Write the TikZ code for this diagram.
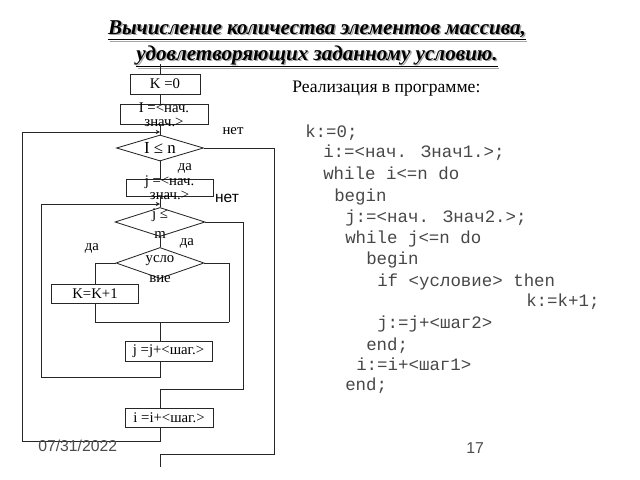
\documentclass[tikz,border=0pt]{standalone}
\usepackage{fontspec}
\setmainfont{Liberation Serif}
\newfontfamily\monof{Liberation Mono}
\newfontfamily\sansf{Liberation Sans}
\usetikzlibrary{shapes.geometric,arrows.meta}
\newcommand\twol[2]{\smash{\raisebox{-4.5pt}{\begin{tabular}[c]{@{}c@{}}#1\\#2\end{tabular}}}}
\newcommand\twolow[2]{\smash{\raisebox{-6.5pt}{\begin{tabular}[c]{@{}c@{}}#1\\#2\end{tabular}}}}
\begin{document}
\begin{tikzpicture}[x=0.025cm,y=-0.025cm,
  ln/.style={line width=0.6pt, draw=black!85},
  box/.style={ln, rectangle, inner sep=0pt, font=\fontsize{10.5}{10}\selectfont},
  dia/.style={ln, diamond, aspect=4, inner sep=0pt, font=\fontsize{10.5}{14}\selectfont},
  lbl/.style={font=\fontsize{10.5}{12}\selectfont, inner sep=0pt},
  code/.style={anchor=base west, inner sep=0pt, font=\monof\fontsize{12.4}{14}\selectfont, text=black!72},
  foot/.style={anchor=west, inner sep=0pt, font=\sansf\fontsize{11.2}{12}\selectfont, text=black!70},
  title/.style={align=center, inner sep=0pt, font=\bfseries\itshape\fontsize{15}{18.5}\selectfont},
  arr/.style={ln, -{Stealth[length=3pt,width=3pt]}}
]
\useasboundingbox (0,0) rectangle (640,480);

% title with shadow
\node[title, text=black!35] (tsh) at (318.5,45.5) {\underline{Вычисление количества элементов массива,}\\\underline{удовлетворяющих заданному условию.}};
\node[title] (title) at (317,44) {\underline{Вычисление количества элементов массива,}\\\underline{удовлетворяющих заданному условию.}};

% flowchart nodes
\node[box, minimum width=1.75cm, minimum height=0.5cm] (K0) at (165,84) {K =0};
\node[box, minimum width=2.2cm, minimum height=0.5cm] (I1) at (164,114) {\twol{I =<нач.}{знач.>}};
\node[dia, minimum width=2.175cm, minimum height=0.65cm, font=\fontsize{12}{14}\selectfont] (D1) at (160,148) {I ≤ n};
\node[box, minimum width=2.175cm, minimum height=0.425cm] (J1) at (169.5,187.5) {\twol{j =<нач.}{знач.>}};
\node[dia, minimum width=2.25cm, minimum height=0.725cm] (D2) at (160,222) {\twol{j ≤}{m}};
\node[dia, minimum width=2.2cm, minimum height=0.775cm] (D3) at (160,263) {\twolow{усло}{вие}};
\node[box, minimum width=2.175cm, minimum height=0.475cm] (K1) at (95,293.5) {K=K+1};
\node[box, minimum width=2.175cm, minimum height=0.5cm] (J2) at (168.5,351) {j =j+<шаг.>};
\node[box, minimum width=2.2cm, minimum height=0.475cm] (I2) at (169,417.5) {i =i+<шаг.>};

% coordinates
\coordinate (top) at (160,64);
\coordinate (oL) at (22,441);
\coordinate (oT) at (160,132);
\coordinate (iL) at (41,377);
\coordinate (iT) at (160,204);
\coordinate (oR) at (274,454);
\coordinate (endp) at (160,467);
\coordinate (iR) at (243,389);
\coordinate (mR) at (229,322);
\coordinate (mC) at (160,322);

% connectors
\draw[ln] (top) -- (K0.north -| top);
\draw[ln] (K0.south -| top) -- (I1.north -| top);
\draw[ln] (I1.south -| top) -- (D1.north);
\draw[arr] (I2.south -| top) |- (oL) |- (oT);
\draw[ln] (D1.south) -- (J1.north -| top);
\draw[ln] (D1.east) -| (oR) -| (endp);
\draw[ln] (J1.south -| top) -- (D2.north);
\draw[arr] (J2.south -| top) |- (iL) |- (iT);
\draw[ln] (D2.south) -- (D3.north);
\draw[ln] (D2.east) -| (iR) -| (I2.north -| top);
\draw[ln] (D3.west) -| (K1.north);
\draw[ln] (K1.south) |- (mR);
\draw[ln] (D3.east) -| (mR);
\draw[ln] (mC) -- (J2.north -| mC);

% labels
\node[lbl] (n1) at (233,131) {нет};
\node[lbl] (y1) at (185,168) {да};
\node[lbl, font=\sansf\fontsize{11}{12}\selectfont] (n2) at (227,198) {нет};
\node[lbl] (y2) at (187,243) {да};
\node[lbl] (y3) at (92,248) {да};

% program text
\node[anchor=base west, inner sep=0pt, font=\fontsize{12.5}{14}\selectfont] (impl) at (292,93) {Реализация в программе:};
\node[code] (c1) at (305,137) {k:=0;};
\node[code] (c2) at (323,157) {i:=<нач. Знач1.>;};
\node[code] (c3) at (323,179) {while i<=n do};
\node[code] (c4) at (334,201) {begin};
\node[code] (c5) at (345,222) {j:=<нач. Знач2.>;};
\node[code] (c6) at (345,243) {while j<=n do};
\node[code] (c7) at (366,264) {begin};
\node[code] (c8) at (377,286) {if <условие> then};
\node[code] (c9) at (526,306) {k:=k+1;};
\node[code] (c10) at (377,328) {j:=j+<шаг2>};
\node[code] (c11) at (366,350) {end;};
\node[code] (c12) at (356,370) {i:=i+<шаг1>};
\node[code] (c13) at (345,390) {end;};

% footer
\node[foot] (date) at (38,446) {07/31/2022};
\node[foot] (page) at (466,448) {17};
\end{tikzpicture}
\end{document}
